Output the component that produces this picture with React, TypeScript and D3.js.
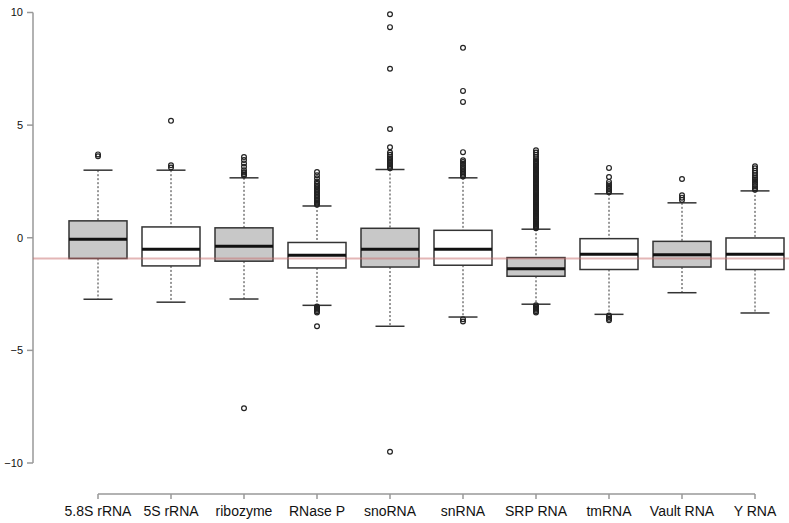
import React from "react";
import * as d3 from "d3";

// categories along the x axis
const categories = ["5.8S rRNA", "5S rRNA", "ribozyme", "RNase P", "snoRNA", "snRNA", "SRP RNA", "tmRNA", "Vault RNA", "Y RNA"];

// box statistics
const whiskerLow = [-2.73, -2.86, -2.72, -3.0, -3.93, -3.52, -2.95, -3.4, -2.44, -3.34];
const q1 = [-0.92, -1.25, -1.04, -1.34, -1.3, -1.22, -1.71, -1.41, -1.3, -1.41];
const medians = [-0.07, -0.51, -0.38, -0.78, -0.51, -0.51, -1.38, -0.73, -0.75, -0.73];
const q3 = [0.75, 0.48, 0.44, -0.21, 0.42, 0.33, -0.88, -0.04, -0.16, -0.01];
const whiskerHigh = [3.0, 3.0, 2.66, 1.41, 3.03, 2.66, 0.38, 1.95, 1.55, 2.08];
const filled = [true, false, true, false, true, false, true, false, true, false];

// outliers per category
const out58S = [3.62, 3.7];
const out5S = [5.19, 3.22, 3.12];
const outRibozyme = [3.58, 3.45, 3.3, 3.15, 3.0, 2.9, 2.82, 2.76, -7.57];
const outRNaseP = [2.92, 2.78, 2.64, 2.5, 2.4, 2.32, 2.25, 2.18, 2.1, 2.03, 1.96, 1.89, 1.82, 1.75, 1.69, 1.63, 1.57, 1.51, 1.46,
  -3.05, -3.1, -3.15, -3.2, -3.26, -3.32, -3.93];
const outSnoRNA = [9.92, 9.35, 7.5, 4.83, 4.02, 3.78, 3.68, 3.6, 3.52, 3.45, 3.38, 3.32, 3.26, 3.2, 3.14, 3.09, -9.5];
const outSnRNA = [8.43, 6.52, 6.03, 3.8, 3.44, 3.36, 3.28, 3.2, 3.12, 3.05, 2.98, 2.91, 2.84, 2.78, 2.72, -3.62, -3.72];
const outSRP = [3.88, 3.78, 3.68, 3.58, 3.49, 3.41, 3.37, 3.33, 3.29, 3.26, 3.21, 3.17, 3.13, 3.09, 3.05, 3.01, 2.97, 2.93,
  2.89, 2.86, 2.81, 2.77, 2.73, 2.69, 2.65, 2.61, 2.58, 2.54, 2.49, 2.45, 2.41, 2.37, 2.34, 2.3, 2.25, 2.21, 2.17, 2.13,
  2.09, 2.05, 2.02, 1.98, 1.93, 1.89, 1.85, 1.81, 1.78, 1.74, 1.69, 1.65, 1.61, 1.57, 1.54, 1.5, 1.45, 1.41, 1.37, 1.33,
  1.3, 1.26, 1.21, 1.17, 1.13, 1.09, 1.06, 1.02, 0.97, 0.93, 0.89, 0.85, 0.82, 0.78, 0.73, 0.69, 0.65, 0.61, 0.58, 0.54,
  0.5, 0.46, 0.42, -3.0, -3.05, -3.1, -3.15, -3.2, -3.26, -3.32];
const outTmRNA = [3.1, 2.7, 2.48, 2.38, 2.3, 2.22, 2.15, 2.08, 2.02, -3.45, -3.52, -3.6, -3.66];
const outVault = [2.61, 1.89, 1.78, 1.68];
const outYRNA = [3.17, 3.08, 2.98, 2.88, 2.78, 2.68, 2.6, 2.52, 2.44, 2.36, 2.28, 2.2, 2.13];
const outliers = [out58S, out5S, outRibozyme, outRNaseP, outSnoRNA, outSnRNA, outSRP, outTmRNA, outVault, outYRNA];

const yTicks = [-10, -5, 0, 5, 10];
const refLine = -0.92;

const width = 789;
const height = 523;

const x = d3.scalePoint<string>().domain(categories).range([98, 755]);
const y = d3.scaleLinear().domain([-10, 10]).range([463, 12.5]);
const boxW = 58;
const capW = 29;

export default function App() {
  return (
    <svg width={width} height={height} style={{ position: "absolute", left: 0, top: 0, background: "#fff" }}
      fontFamily="'Liberation Sans', Arial, sans-serif">
      {/* y axis */}
      <line x1={33} x2={33} y1={y(10)} y2={y(-10)} stroke="#999" strokeWidth={1.5} />
      {yTicks.map(t => (
        <g key={t}>
          <line x1={27} x2={33} y1={y(t)} y2={y(t)} stroke="#999" strokeWidth={1.5} />
          <text x={23} y={y(t)} dy="0.35em" textAnchor="end" fontSize={11} fill="#111">{t < 0 ? "\u2212" + Math.abs(t) : t}</text>
        </g>
      ))}

      {/* x axis */}
      <line x1={x(categories[0])} x2={x(categories[categories.length - 1])} y1={494} y2={494} stroke="#999" strokeWidth={1.5} />
      {categories.map(c => (
        <g key={c}>
          <line x1={x(c)} x2={x(c)} y1={494} y2={499} stroke="#999" strokeWidth={1.5} />
          <text x={x(c)} y={516} textAnchor="middle" fontSize={14} fill="#111">{c}</text>
        </g>
      ))}

      {/* boxes */}
      {categories.map((c, i) => {
        const cx = x(c) as number;
        return (
          <g key={c}>
            <line x1={cx} x2={cx} y1={y(whiskerHigh[i])} y2={y(q3[i])} stroke="#333" strokeDasharray="2,2" />
            <line x1={cx} x2={cx} y1={y(q1[i])} y2={y(whiskerLow[i])} stroke="#333" strokeDasharray="2,2" />
            <line x1={cx - capW / 2} x2={cx + capW / 2} y1={y(whiskerHigh[i])} y2={y(whiskerHigh[i])} stroke="#333" strokeWidth={1.5} />
            <line x1={cx - capW / 2} x2={cx + capW / 2} y1={y(whiskerLow[i])} y2={y(whiskerLow[i])} stroke="#333" strokeWidth={1.5} />
            <rect x={cx - boxW / 2} y={y(q3[i])} width={boxW} height={y(q1[i]) - y(q3[i])}
              fill={filled[i] ? "#c8c8c8" : "#fff"} stroke="#333" strokeWidth={1.5} />
            <line x1={cx - boxW / 2} x2={cx + boxW / 2} y1={y(medians[i])} y2={y(medians[i])} stroke="#111" strokeWidth={3} />
            {outliers[i].map((v, j) => (
              <circle key={j} cx={cx} cy={y(v)} r={2.4} fill="none" stroke="#222" strokeWidth={1.2} />
            ))}
          </g>
        );
      })}

      {/* reference line */}
      <line x1={33} x2={width} y1={y(refLine)} y2={y(refLine)} stroke="rgba(200,110,110,0.5)" strokeWidth={2} />
    </svg>
  );
}
